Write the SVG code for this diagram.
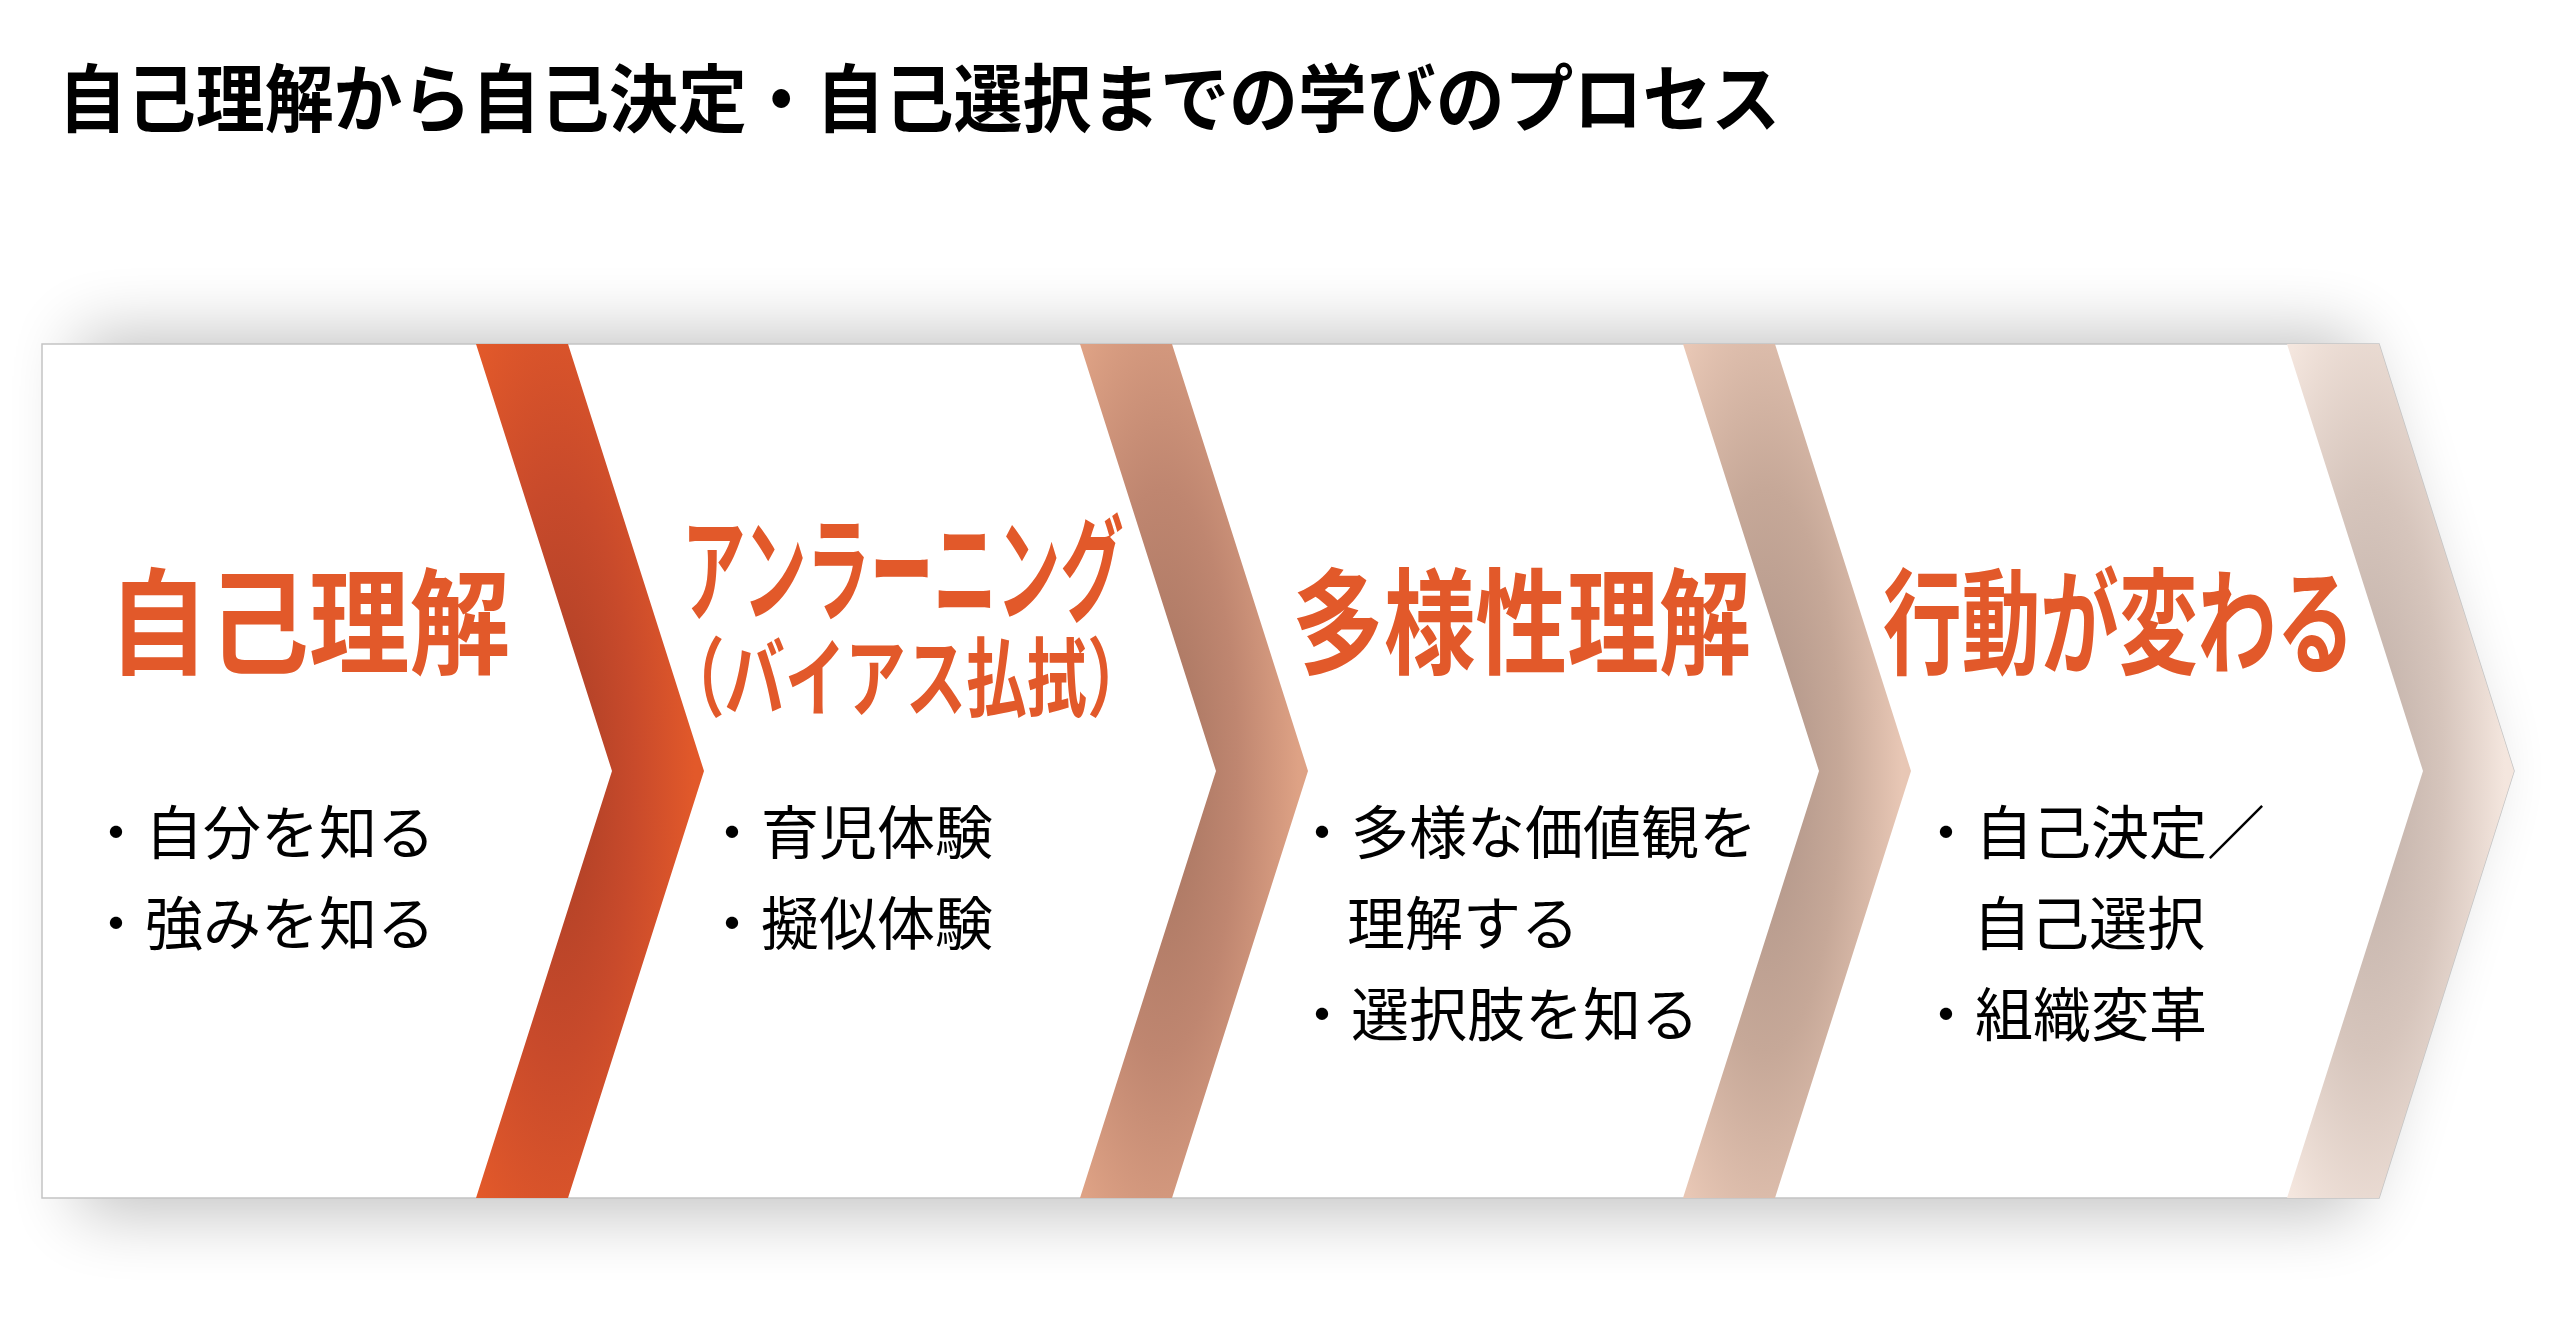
<svg xmlns="http://www.w3.org/2000/svg" width="2560" height="1330" viewBox="0 0 2560 1330">
  <defs>
    <style>
      .title { font-family: "Noto Sans CJK JP", "Noto Sans", sans-serif; font-weight: 700; font-size: 74px; fill: #000000; }
      .head { font-family: "Noto Sans CJK JP", "Noto Sans", sans-serif; font-weight: 700; font-size: 115px; fill: #E2592A; }
      .head2 { font-family: "Noto Sans CJK JP", "Noto Sans", sans-serif; font-weight: 700; font-size: 86px; fill: #E2592A; }
      .item { font-family: "Noto Sans CJK JP", "Noto Sans", sans-serif; font-weight: 400; font-size: 58px; fill: #000000; }
      .panel { fill: #FFFFFF; stroke: #C4C4C4; stroke-width: 1.5; }
    </style>
    <filter id="soft" x="-10%" y="-30%" width="120%" height="160%">
      <feGaussianBlur stdDeviation="34"/>
    </filter>
    <radialGradient id="g1" cx="0.36" cy="0.5" r="0.6">
      <stop offset="0" stop-color="#A83E26"/>
      <stop offset="0.55" stop-color="#C84A2B"/>
      <stop offset="1" stop-color="#E2592A"/>
    </radialGradient>
    <radialGradient id="g2" cx="0.36" cy="0.5" r="0.6">
      <stop offset="0" stop-color="#A4735F"/>
      <stop offset="0.55" stop-color="#BF8670"/>
      <stop offset="1" stop-color="#DEA285"/>
    </radialGradient>
    <radialGradient id="g3" cx="0.36" cy="0.5" r="0.6">
      <stop offset="0" stop-color="#AD9286"/>
      <stop offset="0.55" stop-color="#C6A898"/>
      <stop offset="1" stop-color="#E8C7B5"/>
    </radialGradient>
    <radialGradient id="g4" cx="0.36" cy="0.5" r="0.6">
      <stop offset="0" stop-color="#BEADA5"/>
      <stop offset="0.55" stop-color="#D6C5BC"/>
      <stop offset="1" stop-color="#F4E6DE"/>
    </radialGradient>
  </defs>

  <rect x="0" y="0" width="2560" height="1330" fill="#FFFFFF"/>

  <text class="title" transform="translate(58,126) scale(0.931,1)">自己理解から自己決定・自己選択までの学びのプロセス</text>

  <g id="panel">
    <polygon points="78,334 2352,334 2482,771 2352,1214 78,1214" fill="#000000" opacity="0.24" filter="url(#soft)"/>
    <polygon class="panel" points="42,344 2379,344 2514,771 2379,1198 42,1198"/>
  </g>

  <g id="connectors">
    <polygon points="476,344 568,344 704,771 568,1198 476,1198 612,771" fill="url(#g1)"/>
    <polygon points="1080,344 1172,344 1308,771 1172,1198 1080,1198 1216,771" fill="url(#g2)"/>
    <polygon points="1683,344 1775,344 1911,771 1775,1198 1683,1198 1819,771" fill="url(#g3)"/>
    <polygon points="2287,344 2379,344 2514,771 2379,1198 2287,1198 2423,771" fill="url(#g4)"/>
  </g>

  <g id="stage1">
    <text class="head" transform="translate(108,665) scale(0.874,1)">自己理解</text>
    <text class="item" x="87" y="854">・自分を知る</text>
    <text class="item" x="87" y="945">・強みを知る</text>
  </g>

  <g id="stage2">
    <text class="head" transform="translate(682,612) scale(0.552,1)">アンラーニング</text>
    <text class="head2" transform="translate(664,710) scale(0.703,1)">（バイアス払拭）</text>
    <text class="item" x="703" y="854">・育児体験</text>
    <text class="item" x="703" y="945">・擬似体験</text>
  </g>

  <g id="stage3">
    <text class="head" transform="translate(1292,665) scale(0.798,1)">多様性理解</text>
    <text class="item" x="1293" y="854">・多様な価値観を</text>
    <text class="item" x="1347" y="945">理解する</text>
    <text class="item" x="1293" y="1036">・選択肢を知る</text>
  </g>

  <g id="stage4">
    <text class="head" transform="translate(1883,665) scale(0.684,1)">行動が変わる</text>
    <text class="item" x="1917" y="854">・自己決定／</text>
    <text class="item" x="1973" y="945">自己選択</text>
    <text class="item" x="1917" y="1036">・組織変革</text>
  </g>
</svg>
